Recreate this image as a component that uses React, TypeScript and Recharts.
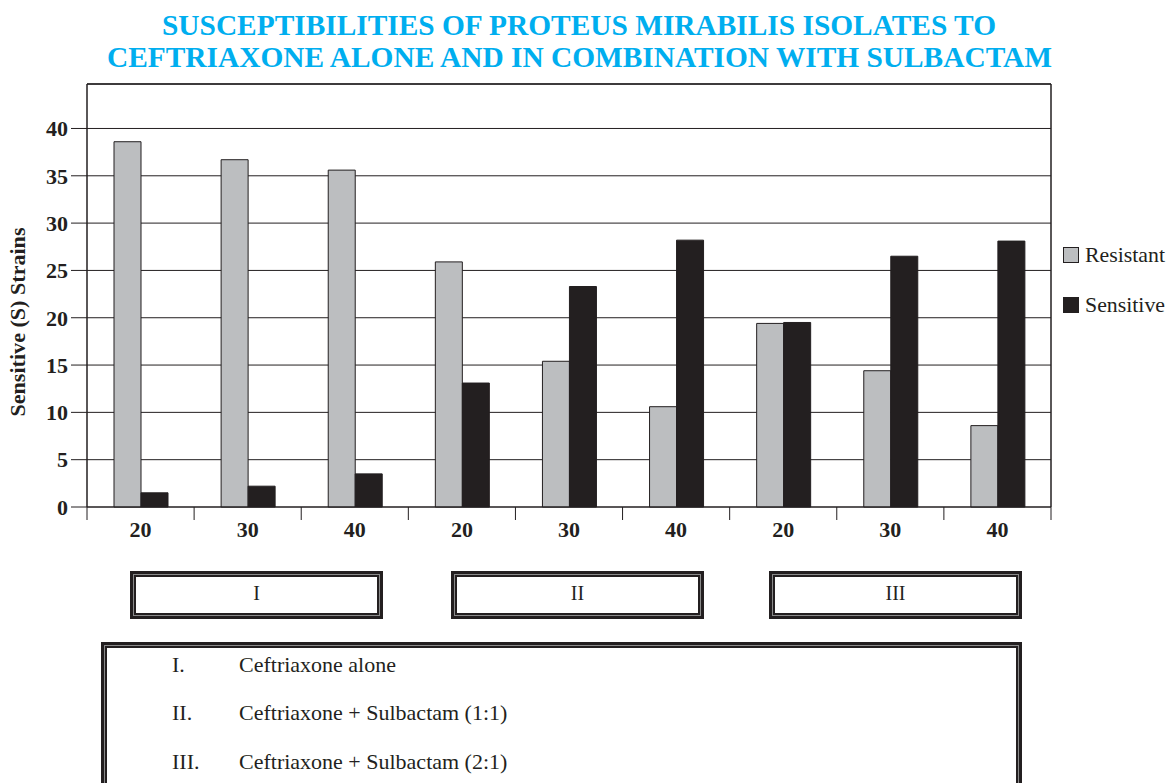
import React from 'react';
import { BarChart, Bar, XAxis, YAxis, CartesianGrid, ReferenceLine, Legend } from 'recharts';

const doses = ['20', '30', '40', '20', '30', '40', '20', '30', '40'];
const resistant = [38.6, 36.7, 35.6, 25.9, 15.4, 10.6, 19.4, 14.4, 8.6];
const sensitive = [1.5, 2.2, 3.5, 13.1, 23.3, 28.2, 19.5, 26.5, 28.1];
const yTicks = [0, 5, 10, 15, 20, 25, 30, 35, 40];
const groupLabels = ['I', 'II', 'III'];
const groupNames = ['Ceftriaxone alone', 'Ceftriaxone + Sulbactam (1:1)', 'Ceftriaxone + Sulbactam (2:1)'];
const titleLines = ['SUSCEPTIBILITIES OF PROTEUS MIRABILIS ISOLATES TO', 'CEFTRIAXONE ALONE AND IN COMBINATION WITH SULBACTAM'];
const yLabel = 'Sensitive (S) Strains';
const Y_MAX = 44.7;

const INK = '#231f20';
const GRAY = '#bcbec0';
const CYAN = '#00aeef';
const SERIF = "'Liberation Serif', 'Times New Roman', serif";

const W = 1169;
const H = 560;
const M = { top: 84, right: 117, bottom: 23, left: 7 };
const Y_W = 80;
const PLOT_W = W - M.left - Y_W - M.right - 1;

const data = doses.map((d, i) => ({ key: i, dose: d, Resistant: resistant[i], Sensitive: sensitive[i] }));

const XTick = (props: any) => {
  const { x, y, index, payload } = props;
  const bw = PLOT_W / doses.length;
  return (
    <g>
      <line x1={x - bw / 2} x2={x - bw / 2} y1={y} y2={y + 13} stroke={INK} strokeWidth={1} />
      {index === doses.length - 1 && (
        <line x1={x + bw / 2} x2={x + bw / 2} y1={y} y2={y + 13} stroke={INK} strokeWidth={1} />
      )}
      <text x={x} y={y + 30} textAnchor="middle" fontFamily={SERIF} fontWeight="bold" fontSize={22} fill={INK}>
        {doses[payload.value]}
      </text>
    </g>
  );
};

const LegendBox = (props: any) => {
  const items = (props.payload && props.payload.length ? props.payload : [
    { value: 'Resistant', color: GRAY },
    { value: 'Sensitive', color: INK },
  ]) as any[];
  return (
    <svg width={114} height={90} style={{ display: 'block' }}>
      {items.map((it, i) => (
        <g key={i}>
          <rect x={8.5} y={9.5 + i * 50} width={15} height={15} fill={it.color || (i === 0 ? GRAY : INK)} stroke={INK} strokeWidth={1} />
          <text x={30} y={24 + i * 50} fontFamily={SERIF} fontSize={22} fill={INK} textLength={80} lengthAdjust="spacingAndGlyphs">{it.value}</text>
        </g>
      ))}
    </svg>
  );
};

const YLabel = () => (
  <text
    x={25}
    y={322}
    transform="rotate(-90, 25, 322)"
    textAnchor="middle"
    fontFamily={SERIF}
    fontWeight="bold"
    fontSize={20}
    fill={INK}
    textLength={189}
    lengthAdjust="spacingAndGlyphs"
  >
    {yLabel}
  </text>
);

const boxLeft = [130, 451, 769];
const BOX_W = 253;

const FrameBox = ({ left, top, width, height, children }: any) => (
  <div
    style={{
      position: 'absolute',
      left,
      top,
      width,
      height,
      boxSizing: 'border-box',
      border: `3px solid ${INK}`,
      background: '#8a8a8a',
      padding: 1,
    }}
  >
    <div style={{ width: '100%', height: '100%', boxSizing: 'border-box', border: `2px solid ${INK}`, background: '#fff' }}>
      {children}
    </div>
  </div>
);

export default function App() {
  return (
    <div style={{ position: 'absolute', left: 0, top: 0, width: W, height: 783, overflow: 'hidden', background: '#fff' }}>
      <svg width={W} height={80} style={{ position: 'absolute', left: 0, top: 0 }}>
        <text x={579} y={35} textAnchor="middle" fontFamily={SERIF} fontWeight="bold" fontSize={30} fill={CYAN} textLength={834} lengthAdjust="spacingAndGlyphs">
          {titleLines[0]}
        </text>
        <text x={579.5} y={66.5} textAnchor="middle" fontFamily={SERIF} fontWeight="bold" fontSize={30} fill={CYAN} textLength={945} lengthAdjust="spacingAndGlyphs">
          {titleLines[1]}
        </text>
      </svg>

      <div style={{ position: 'absolute', left: 0, top: 0 }}>
        <BarChart width={W} height={H} data={data} margin={M} barGap={0}>
          <CartesianGrid vertical={false} horizontal stroke={INK} strokeWidth={1} />
          <XAxis
            dataKey="key"
            type="category"
            height={30}
            tick={<XTick />}
            tickLine={false}
            tickSize={0}
            tickMargin={0}
            interval={0}
            axisLine={{ stroke: INK, strokeWidth: 1 }}
          />
          <YAxis
            width={Y_W}
            domain={[0, Y_MAX]}
            ticks={yTicks}
            interval={0}
            tickSize={16}
            tickMargin={3}
            tickLine={{ stroke: INK, strokeWidth: 1 }}
            axisLine={{ stroke: INK, strokeWidth: 1.5 }}
            tick={{ fontFamily: SERIF, fontWeight: 'bold', fontSize: 22, fill: INK }}
            label={<YLabel />}
          />
          <YAxis
            yAxisId="right"
            orientation="right"
            width={1}
            domain={[0, Y_MAX]}
            tick={false}
            tickLine={false}
            axisLine={{ stroke: INK, strokeWidth: 1.5 }}
          />
          <ReferenceLine y={Y_MAX} stroke={INK} strokeWidth={1.5} />
          <Legend
            layout="vertical"
            align="center"
            verticalAlign="middle"
            content={<LegendBox />}
            wrapperStyle={{ left: 1055, top: 238, width: 114, height: 90 }}
          />
          <Bar dataKey="Resistant" name="Resistant" fill={GRAY} stroke={INK} strokeWidth={1} barSize={27} isAnimationActive={false} />
          <Bar dataKey="Sensitive" name="Sensitive" fill={INK} stroke={INK} strokeWidth={1} barSize={27} isAnimationActive={false} />
        </BarChart>
      </div>

      {groupLabels.map((g, i) => (
        <FrameBox key={g} left={boxLeft[i]} top={571} width={BOX_W} height={48}>
          <div style={{ textAlign: 'center', fontFamily: SERIF, fontSize: 20, lineHeight: '20px', color: INK, paddingTop: 6 }}>{g}</div>
        </FrameBox>
      ))}

      <FrameBox left={101} top={642} width={921} height={170}>
        {groupNames.map((n, i) => (
          <React.Fragment key={n}>
            <span style={{ position: 'absolute', left: 172 - 104, top: 653.5 - 645 + i * 48.6, fontFamily: SERIF, fontSize: 22, lineHeight: '22px', color: INK, whiteSpace: 'nowrap' }}>
              {groupLabels[i] + '.'}
            </span>
            <span style={{ position: 'absolute', left: 239 - 104, top: 653.5 - 645 + i * 48.6, fontFamily: SERIF, fontSize: 22, lineHeight: '22px', color: INK, whiteSpace: 'nowrap' }}>
              {n}
            </span>
          </React.Fragment>
        ))}
      </FrameBox>
    </div>
  );
}
